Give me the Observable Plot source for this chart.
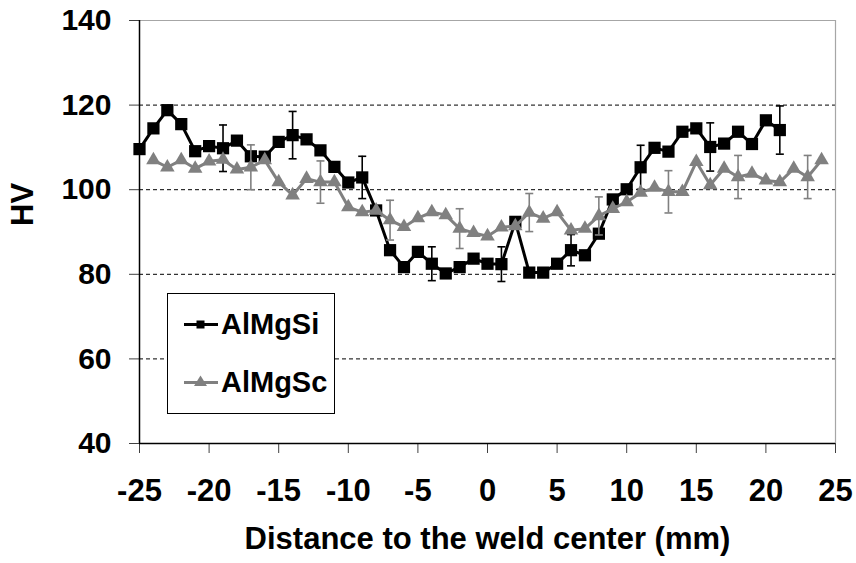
<!DOCTYPE html>
<html>
<head>
<meta charset="utf-8">
<script src="https://cdn.jsdelivr.net/npm/d3@7"></script>
<script src="https://cdn.jsdelivr.net/npm/@observablehq/plot@0.6"></script>
<style>
  body { margin: 0; background: #fff; }
  #wrap { position: relative; width: 856px; height: 563px; font-family: "Liberation Sans", Arial, sans-serif; font-weight: bold; }
  #legend { position: absolute; left: 167px; top: 293px; width: 166px; height: 119px; border: 1px solid #000; background: #fff; box-sizing: content-box; }
  .row { position: absolute; left: 15px; height: 30px; display: flex; align-items: center; }
  .row span { font-size: 29px; margin-left: 2px; color: #000; }
</style>
</head>
<body>
<div id="wrap"><div id="legend"></div></div>
<script>
// ---- data ----
const seriesNames = ["AlMgSi", "AlMgSc"];
const xSi = d3.range(-25, 22);           // -25 .. 21
const hvSi = [109.6,114.5,118.8,115.5,109.1,110.3,109.8,111.6,107.9,107.8,111.3,112.9,111.9,109.3,105.4,101.7,102.9,95.1,85.7,81.7,85.3,82.5,80.2,81.7,83.7,82.5,82.4,92.4,80.4,80.4,82.5,85.7,84.5,89.6,97.7,100.1,105.3,109.9,109.0,113.7,114.5,110.1,110.9,113.7,110.8,116.4,114.1];
const xSc = d3.range(-24, 25);           // -24 .. 24
const hvSc = [107.0,105.3,107.0,105.0,106.7,107.1,104.8,105.3,107.0,101.8,98.7,102.6,101.8,101.8,95.9,94.7,95.1,92.8,91.2,93.3,94.7,94.0,90.8,89.8,89.0,91.1,91.4,94.6,93.2,94.7,90.4,90.8,93.8,95.5,97.1,99.3,100.5,99.5,99.5,106.6,101.1,105.0,103.0,103.8,102.2,101.8,105.0,103.0,107.0];
const errXSi = [-19,-14,-9,-4,1,6,11,16,21];
const errSi  = [5.5,5.6,5.0,4.0,4.1,3.7,5.2,5.7,5.7];
const errXSc = [-17,-12,-7,-2,3,8,13,18,23];
const errSc  = [5.3,5.0,4.7,4.7,4.5,4.5,5.0,5.1,5.1];
const xTicks = [-25,-20,-15,-10,-5,0,5,10,15,20,25];
const yTicks = [40,60,80,100,120,140];
const gridY = [60,80,100,120];
const xTitle = "Distance to the weld center (mm)";
const yTitle = "HV";
const colors = ["#000000", "#808080"];

// ---- tables ----
const si = xSi.map((x, i) => ({x, y: hvSi[i]}));
const sc = xSc.map((x, i) => ({x, y: hvSc[i]}));
function errTable(xs, es, xsAll, ys) {
  return xs.map((x, i) => { const v = ys[xsAll.indexOf(x)]; return {x, lo: v - es[i], hi: v + es[i]}; });
}
const eSi = errTable(errXSi, errSi, xSi, hvSi);
const eSc = errTable(errXSc, errSc, xSc, hvSc);
const caps = t => t.flatMap(d => [{x: d.x, y: d.lo}, {x: d.x, y: d.hi}]);
const capSymbol = { draw(ctx) { ctx.moveTo(-4, 0); ctx.lineTo(4, 0); } };

const chart = Plot.plot({
  width: 856, height: 563,
  marginLeft: 139, marginRight: 21, marginTop: 20, marginBottom: 120,
  style: { fontFamily: "'Liberation Sans', Arial, sans-serif", fontWeight: "bold", background: "#fff", color: "#000", overflow: "visible" },
  x: { domain: [-25, 25] },
  y: { domain: [40, 140] },
  marks: [
    Plot.ruleY(gridY, { stroke: "#000", strokeDasharray: "4,3", strokeWidth: 1 }),
    Plot.ruleY([140], { stroke: "#a6a6a6", strokeWidth: 1.2 }),
    Plot.ruleX([25], { stroke: "#a6a6a6", strokeWidth: 1.2 }),
    // AlMgSi
    Plot.line(si, { x: "x", y: "y", stroke: colors[0], strokeWidth: 3 }),
    Plot.ruleX(eSi, { x: "x", y1: "lo", y2: "hi", stroke: colors[0], strokeWidth: 1.6 }),
    Plot.dot(caps(eSi), { x: "x", y: "y", symbol: capSymbol, stroke: colors[0], strokeWidth: 1.6, fill: "none" }),
    Plot.dot(si, { x: "x", y: "y", symbol: "square", r: 6.9, fill: colors[0], stroke: "none" }),
    // AlMgSc
    Plot.line(sc, { x: "x", y: "y", stroke: colors[1], strokeWidth: 3 }),
    Plot.ruleX(eSc, { x: "x", y1: "lo", y2: "hi", stroke: colors[1], strokeWidth: 1.6 }),
    Plot.dot(caps(eSc), { x: "x", y: "y", symbol: capSymbol, stroke: colors[1], strokeWidth: 1.6, fill: "none" }),
    Plot.dot(sc, { x: "x", y: "y", symbol: "triangle", r: 5.4, fill: colors[1], stroke: "none" }),
    // axes
    Plot.axisY({ ticks: yTicks, tickSize: 10, tickPadding: 18, fontSize: 30, fontWeight: "bold", label: null, tickFormat: d => String(d), stroke: "#404040" }),
    Plot.axisX({ ticks: xTicks, tickSize: 10, tickPadding: 25, fontSize: 31, fontWeight: "bold", label: null, tickFormat: d => String(d), stroke: "#404040" }),
    Plot.ruleX([-25], { stroke: "#000", strokeWidth: 1.5 }),
    Plot.ruleY([40], { stroke: "#000", strokeWidth: 1.5 }),
    Plot.text([yTitle], { frameAnchor: "left", dx: -116, dy: -6, rotate: -90, fontSize: 31, fontWeight: "bold" }),
    Plot.text([xTitle], { frameAnchor: "bottom", dy: 105, fontSize: 31, fontWeight: "bold" })
  ]
});
document.getElementById("wrap").prepend(chart);

// ---- legend ----
const legend = document.getElementById("legend");
const rowsY = [15, 73];
seriesNames.forEach((name, i) => {
  const row = document.createElement("div");
  row.className = "row";
  row.style.top = rowsY[i] + "px";
  const sym = i === 0
    ? `<rect x="13.5" y="11.5" width="8" height="8" fill="${colors[0]}"/>`
    : `<path d="M17.5 8.5 L24 19 L11 19 Z" fill="${colors[1]}"/>`;
  row.innerHTML = `<svg width="36" height="30"><line x1="1" x2="35" y1="15.5" y2="15.5" stroke="${colors[i]}" stroke-width="3"/>${sym}</svg><span>${name}</span>`;
  legend.appendChild(row);
});
</script>
</body>
</html>
